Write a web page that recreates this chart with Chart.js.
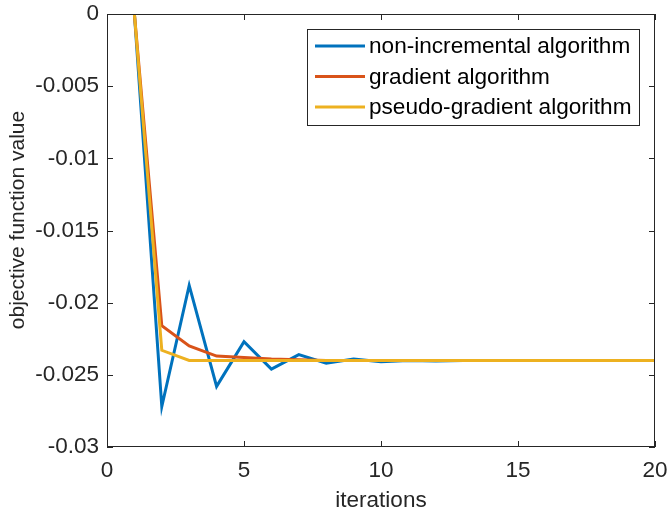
<!DOCTYPE html>
<html>
<head>
<meta charset="utf-8">
<script src="https://cdn.jsdelivr.net/npm/chart.js@4"></script>
<style>
  html, body { margin: 0; padding: 0; background: #fff; }
  #wrap { width: 667px; height: 514px; }
</style>
</head>
<body>
<div id="wrap"><canvas id="objChart" width="667" height="514"></canvas></div>
<script>
const iterations = [1, 2, 3, 4, 5, 6, 7, 8, 9, 10, 11, 12, 13, 14, 15, 16, 17, 18, 19, 20];
const nonIncremental = [0, -0.0272, -0.0188, -0.0258, -0.0227, -0.0246, -0.0236, -0.0242, -0.0239, -0.0241,
  -0.0240, -0.02405, -0.0240, -0.0240, -0.0240, -0.0240, -0.0240, -0.0240, -0.0240, -0.0240];
const gradientAlg = [0, -0.0216, -0.0230, -0.0237, -0.0238, -0.0239, -0.02395, -0.0240, -0.0240, -0.0240,
  -0.0240, -0.0240, -0.0240, -0.0240, -0.0240, -0.0240, -0.0240, -0.0240, -0.0240, -0.0240];
const pseudoGradient = [0, -0.0233, -0.0240, -0.0240, -0.0240, -0.0240, -0.0240, -0.0240, -0.0240, -0.0240,
  -0.0240, -0.0240, -0.0240, -0.0240, -0.0240, -0.0240, -0.0240, -0.0240, -0.0240, -0.0240];
const seriesNames = ["non-incremental algorithm", "gradient algorithm", "pseudo-gradient algorithm"];
const xTicks = [0, 5, 10, 15, 20];
const yTicks = [0, -0.005, -0.01, -0.015, -0.02, -0.025, -0.03];

const FONT = "'Liberation Sans', Arial, Helvetica, sans-serif";
const AXIS_COLOR = "#262626";

function toPoints(ys) {
  return iterations.map((x, i) => ({ x: x, y: ys[i] }));
}

// box around the axes + inward tick marks, matlab style
const boxAxes = {
  id: "boxAxes",
  afterDatasetsDraw(chart) {
    const { ctx, chartArea: a, scales } = chart;
    const len = 6;
    ctx.save();
    ctx.strokeStyle = AXIS_COLOR;
    ctx.lineWidth = 1;
    ctx.strokeRect(a.left + 0.5, a.top + 0.5, a.right - a.left - 1, a.bottom - a.top - 1);
    ctx.beginPath();
    xTicks.forEach(v => {
      const px = Math.round(scales.x.getPixelForValue(v)) + 0.5;
      ctx.moveTo(px, a.bottom); ctx.lineTo(px, a.bottom - len);
      ctx.moveTo(px, a.top); ctx.lineTo(px, a.top + len);
    });
    yTicks.forEach(v => {
      const py = Math.round(scales.y.getPixelForValue(v)) + 0.5;
      ctx.moveTo(a.left, py); ctx.lineTo(a.left + len, py);
      ctx.moveTo(a.right, py); ctx.lineTo(a.right - len, py);
    });
    ctx.stroke();
    ctx.restore();
  }
};

// legend in a box at the top right of the axes
const boxLegend = {
  id: "boxLegend",
  afterDraw(chart) {
    const { ctx } = chart;
    const x0 = 307, y0 = 29, w = 332, h = 96;
    const rowH = 30.5;
    ctx.save();
    ctx.fillStyle = "#fff";
    ctx.fillRect(x0, y0, w, h);
    ctx.strokeStyle = AXIS_COLOR;
    ctx.lineWidth = 1;
    ctx.strokeRect(x0 + 0.5, y0 + 0.5, w, h);
    ctx.font = "22.6px " + FONT;
    ctx.textBaseline = "middle";
    chart.data.datasets.forEach((ds, i) => {
      const y = y0 + 17 + i * rowH;
      ctx.strokeStyle = ds.borderColor;
      ctx.lineWidth = 3;
      ctx.beginPath();
      ctx.moveTo(x0 + 8, y);
      ctx.lineTo(x0 + 58, y);
      ctx.stroke();
      ctx.fillStyle = "#000";
      ctx.fillText(ds.label, x0 + 62, y + 1);
    });
    ctx.restore();
  }
};

new Chart(document.getElementById("objChart"), {
  type: "line",
  data: {
    datasets: [
      // later series sit on top, like matlab
      { label: seriesNames[0], data: toPoints(nonIncremental), borderColor: "#0072BD", order: 3 },
      { label: seriesNames[1], data: toPoints(gradientAlg), borderColor: "#D95319", order: 2 },
      { label: seriesNames[2], data: toPoints(pseudoGradient), borderColor: "#EDB120", order: 1 }
    ].map(d => Object.assign(d, { borderWidth: 3, pointRadius: 0, tension: 0, fill: false }))
  },
  options: {
    responsive: false,
    animation: false,
    layout: { padding: { top: 14, right: 12, left: 0, bottom: 0 } },
    plugins: { legend: { display: false }, tooltip: { enabled: false } },
    scales: {
      x: {
        type: "linear",
        min: 0, max: 20,
        afterBuildTicks: s => { s.ticks = xTicks.map(v => ({ value: v })); },
        afterFit: s => { s.height = 67; s.paddingLeft = 0; s.paddingRight = 0; },
        grid: { display: false, drawTicks: false },
        border: { display: false },
        ticks: { color: AXIS_COLOR, font: { family: FONT, size: 22.5 }, padding: 10, maxRotation: 0 },
        title: { display: true, text: "iterations", color: AXIS_COLOR, font: { family: FONT, size: 22.5 }, padding: { top: 0, bottom: 0 } }
      },
      y: {
        min: -0.03, max: 0,
        afterBuildTicks: s => { s.ticks = yTicks.map(v => ({ value: v })); },
        afterFit: s => { s.width = 107; s.paddingTop = 0; s.paddingBottom = 0; },
        grid: { display: false, drawTicks: false },
        border: { display: false },
        ticks: {
          color: AXIS_COLOR, font: { family: FONT, size: 22.5 }, padding: 8,
          callback: v => String(Number(v.toFixed(3)))
        },
        title: {
          display: true, text: "\u2002\u2002objective function value", color: AXIS_COLOR,
          font: { family: FONT, size: 21 }, padding: { top: 6, bottom: 0 }
        }
      }
    }
  },
  plugins: [boxAxes, boxLegend]
});
</script>
</body>
</html>
